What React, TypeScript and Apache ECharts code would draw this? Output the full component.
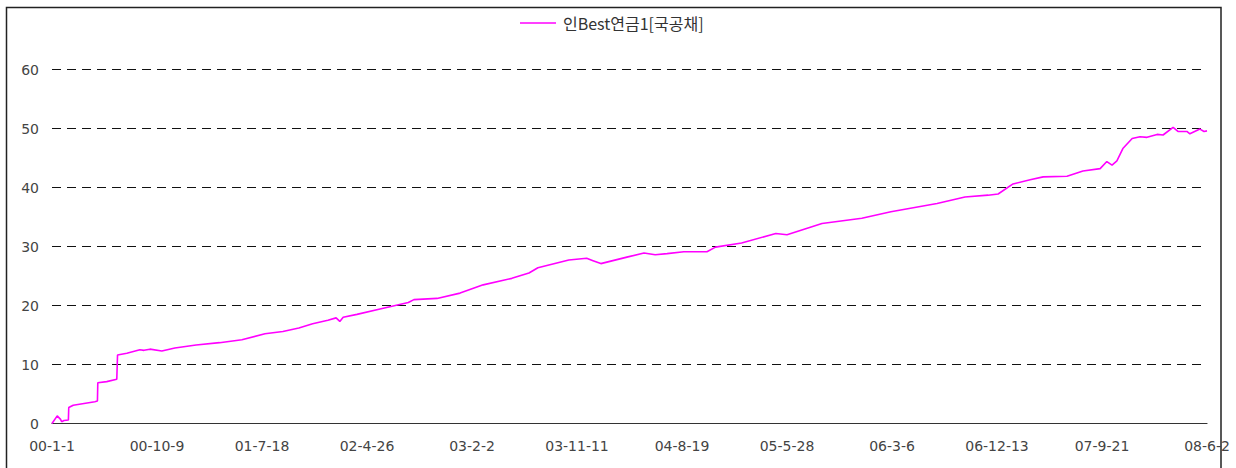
import React, { useEffect, useRef } from "react";
import * as echarts from "echarts";

// Tick labels along the date axis (one every 282 days)
const xTickLabels = [
  "00-1-1", "00-10-9", "01-7-18", "02-4-26", "03-2-2", "03-11-11",
  "04-8-19", "05-5-28", "06-3-6", "06-12-13", "07-9-21", "08-6-2",
];
const tickStep = 282;
const seriesName = "인Best연금1[국공채]";

// Day offset from 2000-01-01
const dayIndex = [
  0, 14, 23, 26, 32, 44, 45, 57, 115, 122,
  123, 147, 174, 175, 176, 201, 236, 247, 263, 295,
  330, 387, 450, 510, 572, 620, 663, 700, 741, 763,
  773, 782, 819, 881, 957, 972, 1034, 1096, 1158, 1235,
  1281, 1305, 1388, 1436, 1453, 1474, 1544, 1590, 1620, 1652,
  1697, 1759, 1782, 1852, 1944, 1974, 2068, 2175, 2253, 2377,
  2452, 2514, 2541, 2581, 2627, 2662, 2726, 2769, 2815, 2833,
  2847, 2860, 2876, 2901, 2922, 2941, 2968, 2984, 3011, 3024,
  3048, 3056, 3083, 3094, 3102,
];
// Cumulative return (%)
const returns = [
  0, 1.3, 0.7, 0.3, 0.5, 0.6, 2.7, 3.1, 3.7, 3.8,
  6.9, 7.1, 7.5, 7.5, 11.6, 11.9, 12.5, 12.4, 12.6, 12.3,
  12.8, 13.3, 13.7, 14.2, 15.2, 15.6, 16.2, 16.9, 17.5, 17.9,
  17.3, 18.0, 18.5, 19.4, 20.5, 21.0, 21.2, 22.1, 23.5, 24.6,
  25.5, 26.4, 27.7, 28.0, 27.6, 27.1, 28.2, 28.9, 28.6, 28.8,
  29.1, 29.1, 29.9, 30.6, 32.2, 32.0, 33.9, 34.8, 35.9, 37.3,
  38.4, 38.7, 38.9, 40.6, 41.3, 41.8, 41.9, 42.8, 43.2, 44.4,
  43.8, 44.5, 46.6, 48.3, 48.6, 48.5, 49.0, 48.9, 50.2, 49.5,
  49.5, 49.1, 49.9, 49.5, 49.6,
];

export default function App() {
  const ref = useRef<HTMLDivElement>(null);
  useEffect(() => {
    if (!ref.current) return;
    const chart = echarts.init(ref.current, null, { renderer: "svg" });
    const data = dayIndex.map((d, i) => [d, returns[i]]);
    const lastDay = tickStep * (xTickLabels.length - 1);
    chart.setOption({
      animation: false,
      backgroundColor: "#ffffff",
      legend: {
        left: 515,
        top: 10,
        icon: "rect",
        itemWidth: 36,
        itemHeight: 1.5,
        itemGap: 10,
        textStyle: { fontSize: 16, color: "#333", fontFamily: "Noto Sans CJK KR", padding: [0, 0, 0, 2] },
        data: [seriesName],
      },
      grid: { left: 52, right: 29, top: 69.5, bottom: 44.5, containLabel: false },
      xAxis: {
        type: "value",
        min: 0,
        max: lastDay,
        interval: tickStep,
        axisLine: { show: true, onZero: false, lineStyle: { color: "#333", width: 1.2 } },
        axisTick: { show: false },
        splitLine: { show: false },
        axisLabel: {
          margin: 15,
          fontSize: 14,
          color: "#444",
          fontFamily: "DejaVu Sans",
          showMinLabel: true,
          showMaxLabel: true,
          formatter: (v: number) => xTickLabels[Math.round(v / tickStep)] ?? "",
        },
      },
      yAxis: {
        type: "value",
        min: 0,
        max: 60,
        interval: 10,
        axisLine: { show: false },
        axisTick: { show: false },
        axisLabel: { margin: 13, fontSize: 14, color: "#444", fontFamily: "DejaVu Sans" },
        splitLine: { show: true, lineStyle: { color: "#111", type: [9, 6], width: 1.2 } },
      },
      series: [
        {
          name: seriesName,
          type: "line",
          data,
          symbol: "none",
          lineStyle: { color: "#ff00ff", width: 1.6 },
          itemStyle: { color: "#ff00ff" },
        },
      ],
      graphic: [
        {
          type: "rect",
          z: 100,
          silent: true,
          shape: { x: 6.5, y: 7.5, width: 1214.5, height: 520 },
          style: { fill: "none", stroke: "#222", lineWidth: 1.5 },
        },
      ],
    });
    return () => chart.dispose();
  }, []);
  return (
    <div
      ref={ref}
      style={{ position: "absolute", left: 0, top: 0, width: 1236, height: 468 }}
    />
  );
}
